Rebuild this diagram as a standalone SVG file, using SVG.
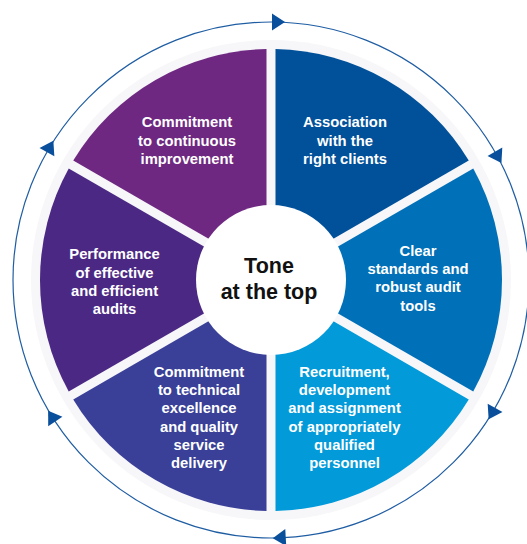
<svg xmlns="http://www.w3.org/2000/svg" xmlns:xlink="http://www.w3.org/1999/xlink" width="527" height="544" viewBox="0 0 527 544">
<style>
.lbl{font-family:"Liberation Sans",Arial,sans-serif;font-weight:bold;font-size:14.8px;fill:#ffffff;text-anchor:middle}
.ctr{font-family:"Liberation Sans",Arial,sans-serif;font-weight:bold;font-size:21.5px;fill:#111111;text-anchor:middle}
.arr{fill:#0a4f9b}
</style>
<defs>
<path id="ah" d="M0,-8.5 L13,0 L0,8.5 Z"/>
</defs>
<rect width="527" height="544" fill="#ffffff"/>
<g id="connectors">
<circle cx="271" cy="280" r="258" fill="none" stroke="#1f5da3" stroke-width="1.2"/>
<use xlink:href="#ah" class="arr" x="272" y="22"/>
<use xlink:href="#ah" class="arr" x="272" y="22" transform="rotate(60 271 280)"/>
<use xlink:href="#ah" class="arr" x="272" y="22" transform="rotate(119.5 271 280)"/>
<use xlink:href="#ah" class="arr" x="272" y="22" transform="rotate(176.5 271 280)"/>
<use xlink:href="#ah" class="arr" x="272" y="22" transform="rotate(236.5 271 280)"/>
<use xlink:href="#ah" class="arr" x="272" y="22" transform="rotate(299.5 271 280)"/>
</g>
<circle cx="271" cy="280" r="240" fill="#f7f7f9"/>
<g id="association">
<path d="M275.5,272.21 L275.5,49.04 A231,231 0 0 1 468.76,160.62 Z" fill="#00509a"/>
<text class="lbl" x="345" y="127">Association</text>
<text class="lbl" x="345" y="145.5">with the</text>
<text class="lbl" x="345" y="164">right clients</text>
</g>
<g id="standards">
<path d="M280,280 L473.27,168.43 A231,231 0 0 1 473.27,391.57 Z" fill="#0070b8"/>
<text class="lbl" x="418" y="256">Clear</text>
<text class="lbl" x="418" y="274.2">standards and</text>
<text class="lbl" x="418" y="292.4">robust audit</text>
<text class="lbl" x="418" y="310.6">tools</text>
</g>
<g id="recruitment">
<path d="M275.5,287.79 L468.76,399.38 A231,231 0 0 1 275.5,510.96 Z" fill="#029ad9"/>
<text class="lbl" x="344.5" y="377">Recruitment,</text>
<text class="lbl" x="344.5" y="395.2">development</text>
<text class="lbl" x="344.5" y="413.4">and assignment</text>
<text class="lbl" x="344.5" y="431.6">of appropriately</text>
<text class="lbl" x="344.5" y="449.8">qualified</text>
<text class="lbl" x="344.5" y="468">personnel</text>
</g>
<g id="technical">
<path d="M266.5,287.79 L266.5,510.96 A231,231 0 0 1 73.24,399.38 Z" fill="#3a3f98"/>
<text class="lbl" x="199" y="377">Commitment</text>
<text class="lbl" x="199" y="395.2">to technical</text>
<text class="lbl" x="199" y="413.4">excellence</text>
<text class="lbl" x="199" y="431.6">and quality</text>
<text class="lbl" x="199" y="449.8">service</text>
<text class="lbl" x="199" y="468">delivery</text>
</g>
<g id="performance">
<path d="M262,280 L68.73,391.57 A231,231 0 0 1 68.73,168.43 Z" fill="#4b2884"/>
<text class="lbl" x="114.5" y="259.3">Performance</text>
<text class="lbl" x="114.5" y="277.5">of effective</text>
<text class="lbl" x="114.5" y="295.7">and efficient</text>
<text class="lbl" x="114.5" y="313.9">audits</text>
</g>
<g id="improvement">
<path d="M266.5,272.21 L73.24,160.62 A231,231 0 0 1 266.5,49.04 Z" fill="#6e2881"/>
<text class="lbl" x="187" y="127">Commitment</text>
<text class="lbl" x="187" y="145.5">to continuous</text>
<text class="lbl" x="187" y="164">improvement</text>
</g>
<g id="tone">
<circle cx="271" cy="280" r="75" fill="#ffffff"/>
<text class="ctr" x="269" y="272.7">Tone</text>
<text class="ctr" x="269" y="299">at the top</text>
</g>
</svg>
